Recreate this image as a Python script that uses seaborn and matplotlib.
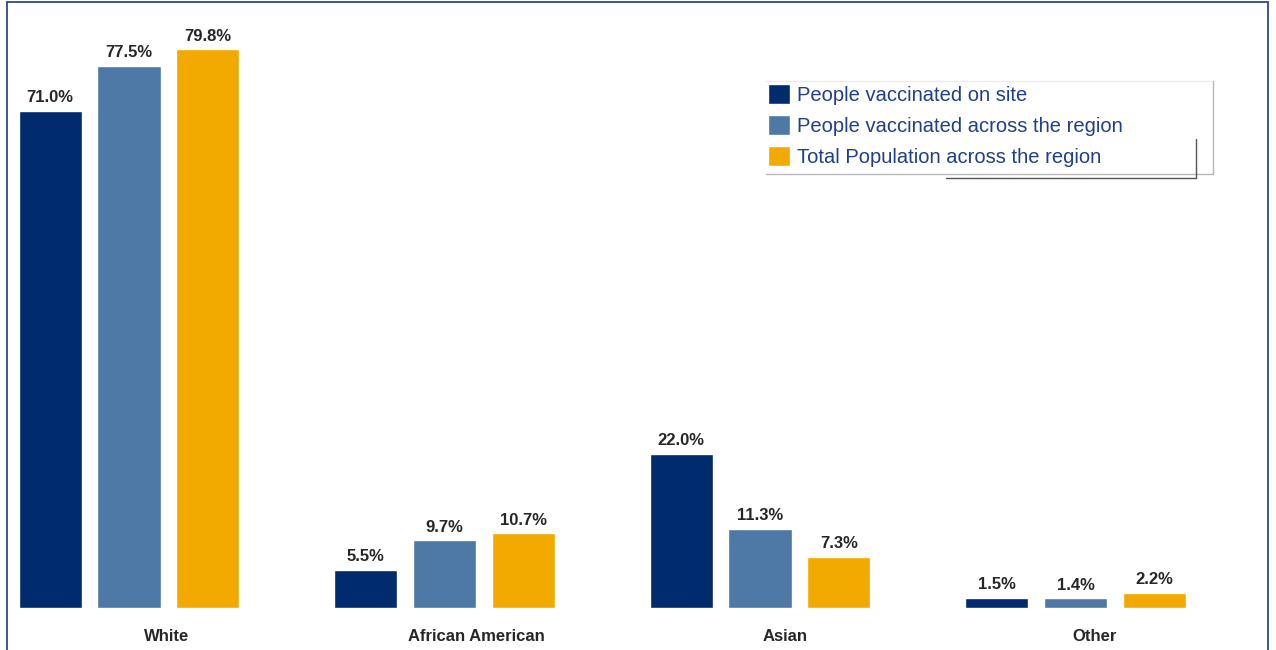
import matplotlib
matplotlib.use("Agg")
import matplotlib.pyplot as plt
from matplotlib.patches import Rectangle
from matplotlib.lines import Line2D
import seaborn as sns
import pandas as pd

categories = ["White", "African American", "Asian", "Other"]
series = ["People vaccinated on site",
          "People vaccinated across the region",
          "Total Population across the region"]
on_site = [71.0, 5.5, 22.0, 1.5]
across_region = [77.5, 9.7, 11.3, 1.4]
total_population = [79.8, 10.7, 7.3, 2.2]
colors = ["#002b6c", "#4e78a5", "#f2aa00"]

df = pd.DataFrame({
    "group": categories * 3,
    "series": [s for s in series for _ in categories],
    "value": on_site + across_region + total_population,
})

sns.set_theme(style="white")
plt.rcParams["font.family"] = ["Liberation Sans", "DejaVu Sans"]

W, H = 1276, 650
fig = plt.figure(figsize=(W / 100, H / 100), dpi=100)
ax = fig.add_axes([8 / W, (H - 608) / H, 1260 / W, 598 / H])

sns.barplot(data=df, x="group", y="value", hue="series", order=categories,
            hue_order=series, palette=colors, width=0.75, gap=0.2,
            saturation=1, ax=ax, legend=True)

ax.set_xlim(-0.3835, 3.610)
ax.set_ylim(0, 598 / 7.0)
for s in ax.spines.values():
    s.set_visible(False)
ax.set_yticks([])
ax.set_xlabel("")
ax.set_ylabel("")

# value labels above each bar
for cont in ax.containers:
    ax.bar_label(cont, labels=[f"{v:.1f}%" for v in cont.datavalues],
                 padding=4, fontsize=12, fontweight="bold", color="#262626")

# category labels
ax.set_xticks([0.12 + 0.98 * i for i in range(len(categories))])
ax.set_xticklabels(categories, fontsize=12, fontweight="bold", color="#262626")
ax.tick_params(axis="x", length=0, pad=15)

leg = ax.legend(loc="upper left", bbox_to_anchor=(768 / W, 1 - 84 / H),
                bbox_transform=fig.transFigure, frameon=False,
                fontsize=14.5, handlelength=1.1, handleheight=1.12,
                handletextpad=0.35, labelspacing=0.52, borderpad=0,
                borderaxespad=0)
for t in leg.get_texts():
    t.set_color("#1f3f8c")


def px_line(xs, ys, color, lw):
    fig.add_artist(Line2D([x / W for x in xs], [1 - y / H for y in ys],
                          transform=fig.transFigure, color=color, lw=lw))


# legend box outlines
px_line([766, 1213], [81, 81], "#ececec", 1.0)
px_line([1213, 1213], [81, 174], "#b8b8b8", 1.0)
px_line([766, 1213], [174, 174], "#b8b8b8", 1.0)
px_line([946, 1196], [178, 178], "#555555", 1.0)
px_line([1196, 1196], [139, 178], "#555555", 1.0)

# outer frame
fig.patches.append(Rectangle((7 / W, -0.05), 1261 / W, 1.05 - 1.5 / H,
                             transform=fig.transFigure, fill=False,
                             edgecolor="#2b4a8c", linewidth=1.3))

fig.savefig("out.png", dpi=100)
